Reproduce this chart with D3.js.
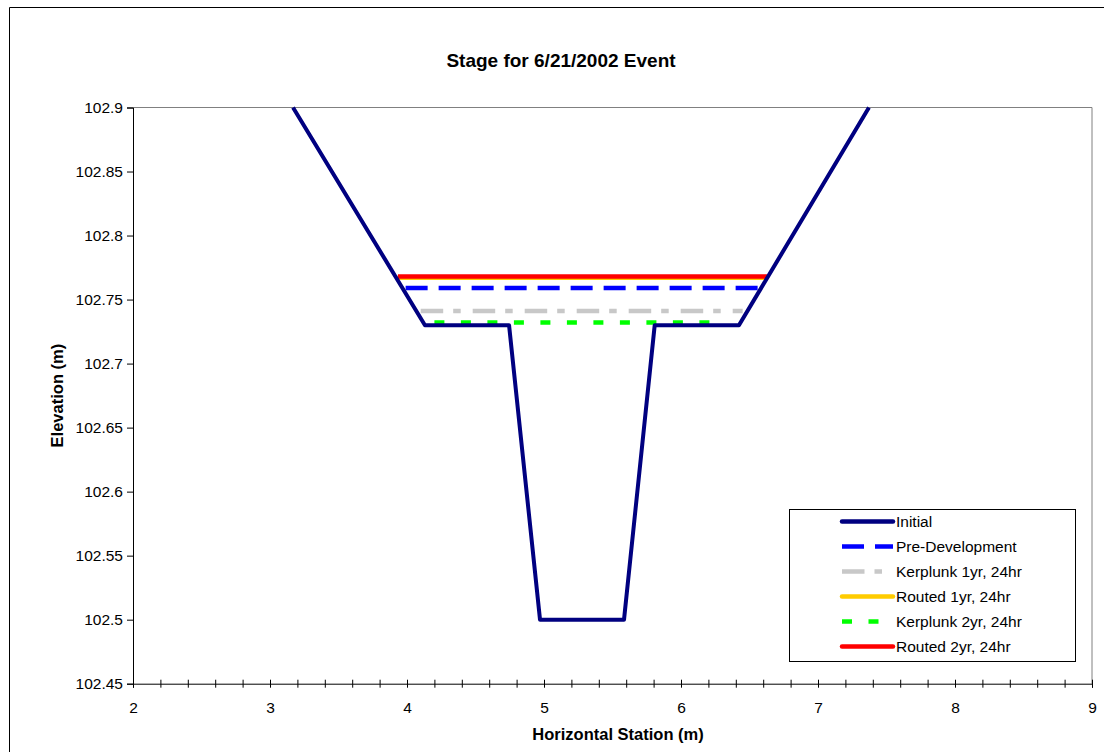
<!DOCTYPE html>
<html>
<head>
<meta charset="utf-8">
<script src="https://cdn.jsdelivr.net/npm/d3@7"></script>
<style>
  html, body { margin: 0; padding: 0; background: #fff; }
  svg { display: block; font-family: "Liberation Sans", Arial, sans-serif; }
</style>
</head>
<body>
<svg id="chart" width="1104" height="752"></svg>
<script>
// Channel cross-section (Initial ground profile)
const profileStation = [3.168, 4.131, 4.745, 4.971, 5.584, 5.808, 6.423, 7.372];
const profileElev    = [102.9, 102.73, 102.73, 102.5, 102.5, 102.73, 102.73, 102.9];

// Water surface stages: name, elevation, start and end station
const stageNames  = ["Pre-Development", "Kerplunk 1yr, 24hr", "Routed 1yr, 24hr", "Kerplunk 2yr, 24hr", "Routed 2yr, 24hr"];
const stageElev   = [102.759, 102.741, 102.767, 102.732, 102.768];
const stageStart  = [3.99, 4.10, 3.93, 4.20, 3.934];
const stageEnd    = [6.60, 6.45, 6.63, 6.30, 6.628];

// Axis ticks
const xMajorTicks = [2, 3, 4, 5, 6, 7, 8, 9];
const yTicks = [102.45, 102.5, 102.55, 102.6, 102.65, 102.7, 102.75, 102.8, 102.85, 102.9];

// Drawing styles per series
const styles = {
  "Initial":            { color: "#000080", dash: null },
  "Pre-Development":    { color: "#0000ff", dash: "22,11" },
  "Kerplunk 1yr, 24hr": { color: "#c8c8c8", dash: "22.5,10,7.5,12" },
  "Routed 1yr, 24hr":   { color: "#ffcc00", dash: null },
  "Kerplunk 2yr, 24hr": { color: "#00ff00", dash: "10,16.5" },
  "Routed 2yr, 24hr":   { color: "#ff0000", dash: null }
};
const legendOrder = ["Initial", "Pre-Development", "Kerplunk 1yr, 24hr", "Routed 1yr, 24hr", "Kerplunk 2yr, 24hr", "Routed 2yr, 24hr"];
// Drawing order (back to front)
const drawOrder = [3, 2, 1, 0, 4];

const svg = d3.select("#chart");
const plot = { left: 133, right: 1092, top: 107.5, bottom: 683.7 };

const x = d3.scaleLinear().domain([2, 9]).range([plot.left, plot.right]);
const y = d3.scaleLinear().domain([102.45, 102.9]).range([plot.bottom, plot.top]);

// Outer chart frame
svg.append("path")
  .attr("d", `M9.5,752 L9.5,7.5 L1104,7.5`)
  .attr("fill", "none").attr("stroke", "#000").attr("stroke-width", 1);

// Title
svg.append("text")
  .attr("x", 561).attr("y", 67)
  .attr("text-anchor", "middle")
  .attr("font-size", 19).attr("font-weight", "bold")
  .text("Stage for 6/21/2002 Event");

// Plot frame: top and right edges in gray
svg.append("path")
  .attr("d", `M${plot.left},${plot.top} L${plot.right},${plot.top} L${plot.right},${plot.bottom}`)
  .attr("fill", "none").attr("stroke", "#808080").attr("stroke-width", 1);

svg.append("defs").append("clipPath").attr("id", "clip")
  .append("rect")
  .attr("x", plot.left).attr("y", plot.top - 3)
  .attr("width", plot.right - plot.left).attr("height", plot.bottom - plot.top + 3);

const g = svg.append("g").attr("clip-path", "url(#clip)");

// Stage lines
drawOrder.forEach(i => {
  const st = styles[stageNames[i]];
  g.append("line")
    .attr("x1", x(stageStart[i])).attr("x2", x(stageEnd[i]))
    .attr("y1", y(stageElev[i])).attr("y2", y(stageElev[i]))
    .attr("stroke", st.color)
    .attr("stroke-width", 4.5)
    .attr("stroke-dasharray", st.dash);
});

// Initial profile
const profile = profileStation.map((s, i) => [s, profileElev[i]]);
g.append("path")
  .datum(profile)
  .attr("d", d3.line().x(d => x(d[0])).y(d => y(d[1])))
  .attr("fill", "none")
  .attr("stroke", styles["Initial"].color)
  .attr("stroke-width", 4)
  .attr("stroke-linejoin", "round");

// Y axis
const yAxis = svg.append("g")
  .attr("transform", `translate(${plot.left},0)`)
  .call(d3.axisLeft(y).tickValues(yTicks).tickSize(6).tickPadding(4)
    .tickFormat(d => String(+d.toFixed(2))));
yAxis.select(".domain").attr("stroke", "#000");
yAxis.selectAll("text").attr("font-size", 15.5).attr("fill", "#000").attr("font-family", "Liberation Sans, Arial, sans-serif");

// X axis with crossing minor ticks every 0.2
const minorTicks = d3.range(0, 36).map(i => +(2 + i * 0.2).toFixed(1));
const xAxis = svg.append("g")
  .attr("transform", `translate(0,${plot.bottom})`)
  .call(d3.axisBottom(x).tickValues(minorTicks).tickSize(4).tickPadding(14)
    .tickFormat(d => xMajorTicks.includes(d) ? String(d) : ""));
xAxis.select(".domain").attr("stroke", "#000");
xAxis.selectAll(".tick line").attr("y1", -4).attr("y2", 4).attr("stroke", "#000");
xAxis.selectAll("text").attr("font-size", 15.5).attr("fill", "#000").attr("font-family", "Liberation Sans, Arial, sans-serif");

// Axis titles
svg.append("text")
  .attr("x", 618).attr("y", 740)
  .attr("text-anchor", "middle")
  .attr("font-size", 16.5).attr("font-weight", "bold")
  .text("Horizontal Station (m)");

svg.append("text")
  .attr("transform", `translate(63,${(plot.top + plot.bottom) / 2}) rotate(-90)`)
  .attr("text-anchor", "middle")
  .attr("font-size", 16.5).attr("font-weight", "bold")
  .text("Elevation (m)");

// Legend
const legend = svg.append("g");
legend.append("rect")
  .attr("x", 789.5).attr("y", 509.5).attr("width", 286).attr("height", 152)
  .attr("fill", "#fff").attr("stroke", "#000").attr("stroke-width", 1);

legendOrder.forEach((name, i) => {
  const yy = 521.5 + i * 25;
  const st = styles[name];
  legend.append("line")
    .attr("x1", 842).attr("x2", 893)
    .attr("y1", yy).attr("y2", yy)
    .attr("stroke", st.color).attr("stroke-width", 4.5)
    .attr("stroke-dasharray", st.dash)
    .attr("stroke-linecap", st.dash ? "butt" : "round");
  legend.append("text")
    .attr("x", 896).attr("y", yy + 5.5)
    .attr("font-size", 15.5)
    .text(name);
});
</script>
</body>
</html>
